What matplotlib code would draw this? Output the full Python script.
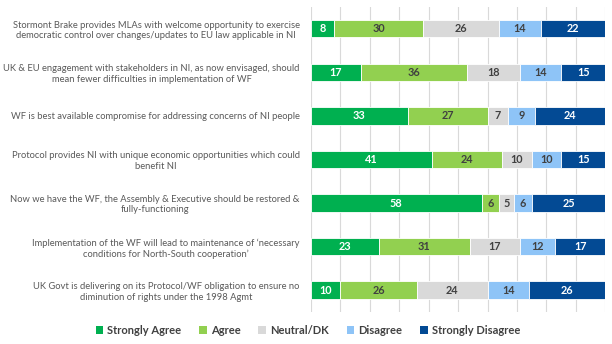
import numpy as np
import matplotlib.pyplot as plt
from matplotlib.patches import Patch

statements = [
    "Stormont Brake provides MLAs with welcome opportunity to exercise\ndemocratic control over changes/updates to EU law applicable in NI",
    "UK & EU engagement with stakeholders in NI, as now envisaged, should\nmean fewer difficulties in implementation of WF",
    "WF is best available compromise for addressing concerns of NI people",
    "Protocol provides NI with unique economic opportunities which could\nbenefit NI",
    "Now we have the WF, the Assembly & Executive should be restored &\nfully-functioning",
    "Implementation of the WF will lead to maintenance of \u2018necessary\nconditions for North-South cooperation\u2019",
    "UK Govt is delivering on its Protocol/WF obligation to ensure no\ndiminution of rights under the 1998 Agmt",
]
strongly_agree = [8, 17, 33, 41, 58, 23, 10]
agree = [30, 36, 27, 24, 6, 31, 26]
neutral = [26, 18, 7, 10, 5, 17, 24]
disagree = [14, 14, 9, 10, 6, 12, 14]
strongly_disagree = [22, 15, 24, 15, 25, 17, 26]

series = [
    ("Strongly Agree", strongly_agree, "#00B050", "white"),
    ("Agree", agree, "#92D050", "#404040"),
    ("Neutral/DK", neutral, "#D9D9D9", "#404040"),
    ("Disagree", disagree, "#8EC4F7", "#404040"),
    ("Strongly Disagree", strongly_disagree, "#034A94", "white"),
]

fig = plt.figure(figsize=(6.12, 3.44), dpi=100)
ax = fig.add_axes([0.508, 0.093, 0.481, 0.887])

y = np.arange(len(statements))
left = np.zeros(len(statements))
for name, vals, color, tcolor in series:
    vals = np.array(vals)
    bars = ax.barh(y, vals, left=left, height=0.4, color=color, edgecolor="white",
                   linewidth=0.6, zorder=3)
    for b, v in zip(bars, vals):
        ax.text(b.get_x() + b.get_width() / 2, b.get_y() + b.get_height() / 2, str(v),
                ha="center", va="center", color=tcolor, fontsize=7.8,
                fontweight="bold", family="Lato", zorder=4)
    left += vals

ax.set_xlim(0, 100)
ax.set_ylim(len(statements) - 0.5, -0.5)
ax.set_xticks(np.arange(0, 101, 10))
ax.xaxis.grid(True, color="#D9D9D9", linewidth=0.8, zorder=0)
ax.tick_params(axis="x", length=0, labelbottom=False)
ax.tick_params(axis="y", length=0, pad=8)
ax.set_yticks(y)
ax.set_yticklabels(statements, fontsize=6.75, color="#595959", family="Lato",
                   multialignment="center")
for s in ax.spines.values():
    s.set_visible(False)

handles = [Patch(facecolor=c, edgecolor="none", label=n) for n, _, c, _ in series]
fig.legend(handles=handles, loc="center", bbox_to_anchor=(0.503, 0.04), ncol=5,
           frameon=False, handlelength=0.7, handleheight=0.7, handletextpad=0.35,
           columnspacing=1.6, prop={"family": "Lato", "size": 8.0, "weight": "bold"},
           labelcolor="#404040")

fig.savefig("out.png", dpi=100)
